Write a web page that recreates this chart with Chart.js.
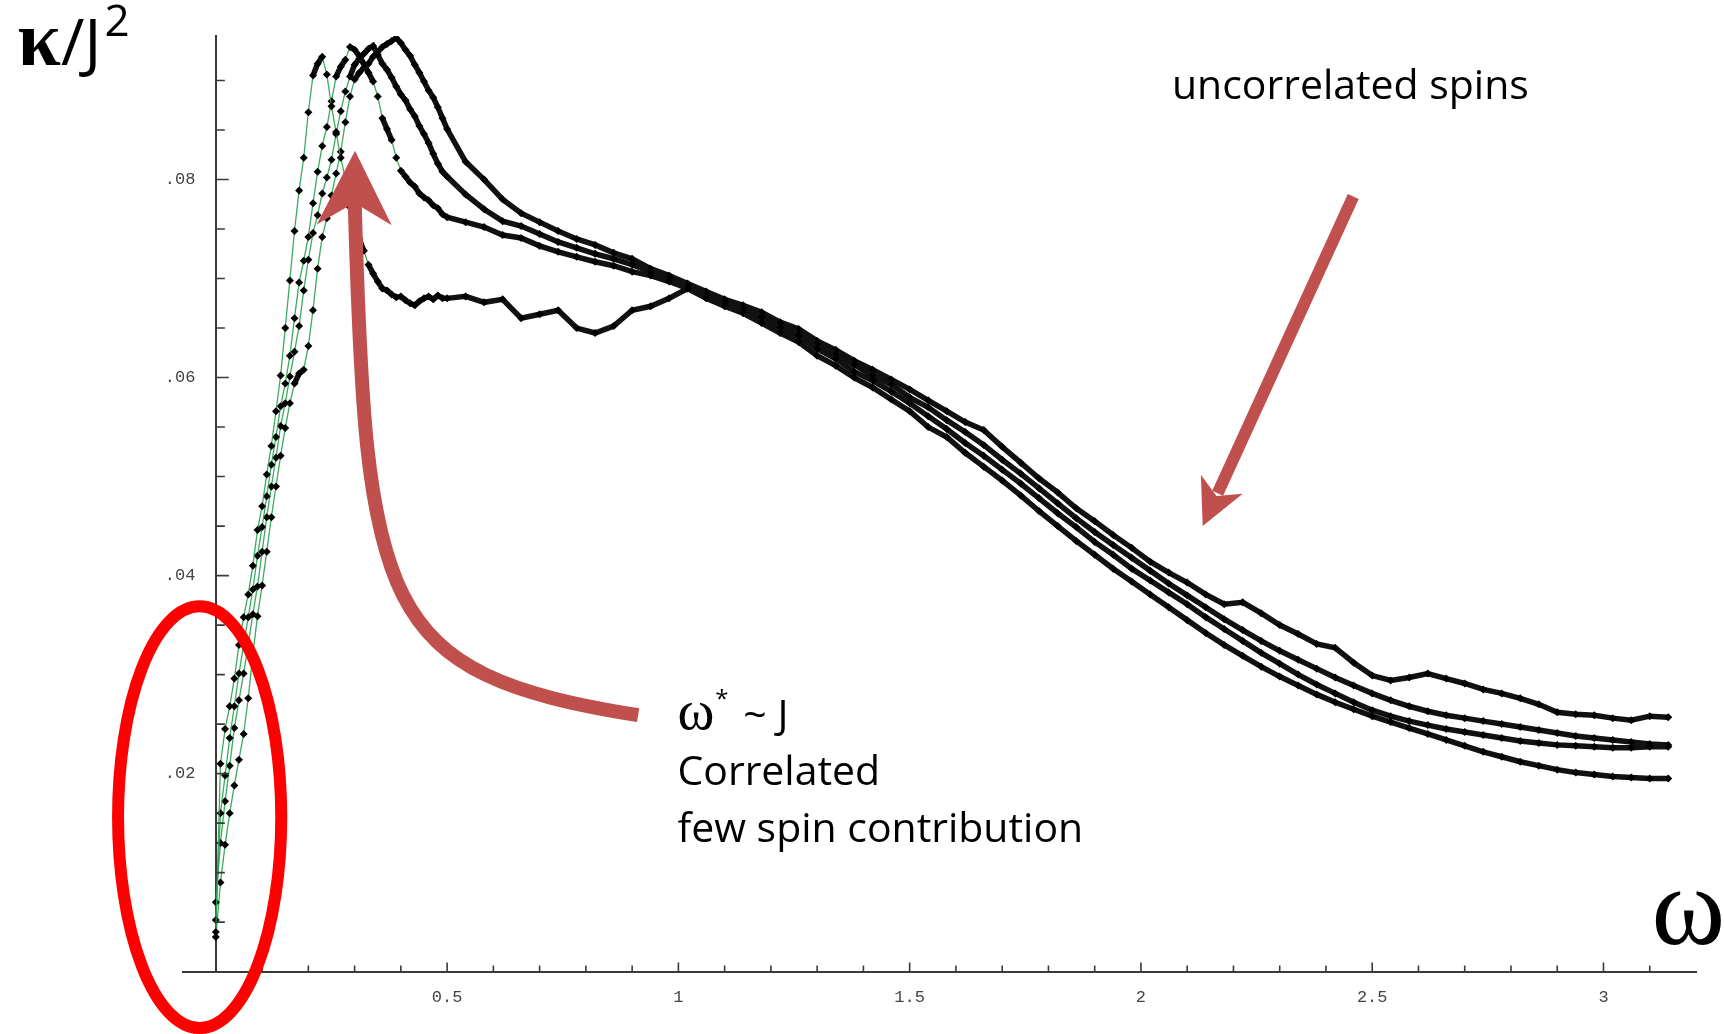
<!doctype html>
<html>
<head>
<meta charset="utf-8">
<title>kappa / J^2 versus omega</title>
<script src="https://cdn.jsdelivr.net/npm/chart.js@4.4.1/dist/chart.umd.min.js"></script>
<style>
    html, body { margin: 0; padding: 0; background: #fff; }
    #holder { width: 1724px; height: 1034px; position: relative; }
</style>
</head>
<body>
<div id="holder"><canvas id="chart"></canvas></div>
<script>
// omega samples: 0.01 steps over the rise and the peaks, 0.04 steps after that
var omega = [
    0.00, 0.01, 0.02, 0.03, 0.04, 0.05, 0.06, 0.07, 0.08, 0.09,
    0.10, 0.11, 0.12, 0.13, 0.14, 0.15, 0.16, 0.17, 0.18, 0.19,
    0.20, 0.21, 0.22, 0.23, 0.24, 0.25, 0.26, 0.27, 0.28, 0.29,
    0.30, 0.31, 0.32, 0.33, 0.34, 0.35, 0.36, 0.37, 0.38, 0.39,
    0.40, 0.41, 0.42, 0.43, 0.44, 0.45, 0.46, 0.47, 0.48, 0.49, 0.50,
    0.54, 0.58, 0.62, 0.66, 0.70, 0.74, 0.78, 0.82, 0.86, 0.90,
    0.94, 0.98, 1.02, 1.06, 1.10, 1.14, 1.18, 1.22, 1.26, 1.30,
    1.34, 1.38, 1.42, 1.46, 1.50, 1.54, 1.58, 1.62, 1.66, 1.70,
    1.74, 1.78, 1.82, 1.86, 1.90, 1.94, 1.98, 2.02, 2.06, 2.10,
    2.14, 2.18, 2.22, 2.26, 2.30, 2.34, 2.38, 2.42, 2.46, 2.50,
    2.54, 2.58, 2.62, 2.66, 2.70, 2.74, 2.78, 2.82, 2.86, 2.90,
    2.94, 2.98, 3.02, 3.06, 3.10, 3.14
];

// curve with the earliest peak, drops to the flat shelf
var kappaA = [
    0.0040, 0.0210, 0.0245, 0.0268, 0.0296, 0.0330, 0.0358, 0.0381, 0.0410, 0.0446,
    0.0470, 0.0502, 0.0531, 0.0566, 0.0602, 0.0650, 0.0698, 0.0748, 0.0789, 0.0822,
    0.0868, 0.0905, 0.0917, 0.0924, 0.0906, 0.0874, 0.0848, 0.0822, 0.0801, 0.0772,
    0.0754, 0.0740, 0.0728, 0.0714, 0.0705, 0.0697, 0.0690, 0.0688, 0.0684, 0.0681,
    0.0682, 0.0678, 0.0675, 0.0673, 0.0677, 0.0680, 0.0682, 0.0679, 0.0683, 0.0680, 0.0680,
    0.0682, 0.0676, 0.0679, 0.0660, 0.0664, 0.0668, 0.0650, 0.0645, 0.0652, 0.0668,
    0.0672, 0.0680, 0.0690, 0.0680, 0.0672, 0.0665, 0.0655, 0.0645, 0.0636, 0.0622,
    0.0612, 0.0600, 0.0590, 0.0578, 0.0566, 0.0550, 0.0540, 0.0524, 0.0510, 0.0496,
    0.0481, 0.0465, 0.0450, 0.0435, 0.0421, 0.0407, 0.0394, 0.0381, 0.0368, 0.0355,
    0.0342, 0.0330, 0.0319, 0.0308, 0.0298, 0.0289, 0.0280, 0.0272, 0.0265, 0.0258,
    0.0252, 0.0246, 0.0240, 0.0234, 0.0228, 0.0222, 0.0217, 0.0212, 0.0208, 0.0204,
    0.0201, 0.0199, 0.0197, 0.0196, 0.0195, 0.0195
];

var kappaB = [
    0.0052, 0.0160, 0.0198, 0.0236, 0.0268, 0.0301, 0.0330, 0.0358, 0.0386, 0.0420,
    0.0449, 0.0480, 0.0512, 0.0540, 0.0571, 0.0594, 0.0622, 0.0660, 0.0696, 0.0718,
    0.0742, 0.0776, 0.0808, 0.0834, 0.0853, 0.0879, 0.0904, 0.0914, 0.0921, 0.0934,
    0.0931, 0.0925, 0.0917, 0.0908, 0.0899, 0.0884, 0.0862, 0.0851, 0.0840, 0.0822,
    0.0809, 0.0803, 0.0797, 0.0793, 0.0786, 0.0782, 0.0779, 0.0774, 0.0771, 0.0765, 0.0762,
    0.0757, 0.0752, 0.0744, 0.0741, 0.0733, 0.0727, 0.0722, 0.0717, 0.0713, 0.0707,
    0.0703, 0.0697, 0.0690, 0.0683, 0.0675, 0.0668, 0.0661, 0.0650, 0.0642, 0.0629,
    0.0619, 0.0606, 0.0597, 0.0586, 0.0574, 0.0561, 0.0548, 0.0534, 0.0521, 0.0507,
    0.0493, 0.0478, 0.0463, 0.0449, 0.0434, 0.0421, 0.0407, 0.0395, 0.0383, 0.0371,
    0.0358, 0.0346, 0.0334, 0.0322, 0.0311, 0.0300, 0.0290, 0.0281, 0.0272, 0.0264,
    0.0258, 0.0253, 0.0249, 0.0245, 0.0242, 0.0239, 0.0236, 0.0233, 0.0231, 0.0229,
    0.0228, 0.0227, 0.0226, 0.0226, 0.0227, 0.0227
];

var kappaC = [
    0.0070, 0.0130, 0.0172, 0.0208, 0.0246, 0.0274, 0.0301, 0.0330, 0.0361, 0.0389,
    0.0424, 0.0459, 0.0490, 0.0519, 0.0551, 0.0574, 0.0601, 0.0626, 0.0652, 0.0688,
    0.0719, 0.0746, 0.0764, 0.0786, 0.0802, 0.0820, 0.0846, 0.0869, 0.0889, 0.0904,
    0.0916, 0.0922, 0.0927, 0.0932, 0.0935, 0.0926, 0.0917, 0.0911, 0.0903, 0.0894,
    0.0886, 0.0880, 0.0871, 0.0864, 0.0854, 0.0846, 0.0837, 0.0826, 0.0816, 0.0808, 0.0803,
    0.0785, 0.0770, 0.0758, 0.0753, 0.0745, 0.0737, 0.0731, 0.0725, 0.0720, 0.0714,
    0.0707, 0.0700, 0.0693, 0.0685, 0.0677, 0.0671, 0.0662, 0.0655, 0.0645, 0.0634,
    0.0623, 0.0613, 0.0602, 0.0593, 0.0580, 0.0570, 0.0557, 0.0545, 0.0532, 0.0517,
    0.0503, 0.0488, 0.0473, 0.0458, 0.0444, 0.0431, 0.0418, 0.0405, 0.0392, 0.0380,
    0.0368, 0.0356, 0.0345, 0.0334, 0.0324, 0.0315, 0.0306, 0.0297, 0.0289, 0.0281,
    0.0274, 0.0268, 0.0263, 0.0259, 0.0256, 0.0253, 0.0250, 0.0247, 0.0244, 0.0241,
    0.0238, 0.0236, 0.0234, 0.0232, 0.0230, 0.0229
];

// curve with the latest peak, ends highest
var kappaD = [
    0.0035, 0.0090, 0.0128, 0.0160, 0.0188, 0.0214, 0.0240, 0.0276, 0.0320, 0.0359,
    0.0390, 0.0424, 0.0459, 0.0490, 0.0521, 0.0549, 0.0574, 0.0594, 0.0604, 0.0608,
    0.0632, 0.0668, 0.0710, 0.0742, 0.0761, 0.0784, 0.0806, 0.0828, 0.0858, 0.0884,
    0.0901, 0.0908, 0.0913, 0.0917, 0.0924, 0.0929, 0.0934, 0.0937, 0.0940, 0.0943,
    0.0938, 0.0931, 0.0925, 0.0916, 0.0908, 0.0899, 0.0890, 0.0883, 0.0873, 0.0862, 0.0851,
    0.0818, 0.0800, 0.0780, 0.0766, 0.0757, 0.0748, 0.0740, 0.0734, 0.0726, 0.0720,
    0.0710, 0.0703, 0.0695, 0.0687, 0.0679, 0.0673, 0.0666, 0.0656, 0.0649, 0.0637,
    0.0628, 0.0617, 0.0608, 0.0598, 0.0588, 0.0577, 0.0566, 0.0555, 0.0547, 0.0530,
    0.0514, 0.0498, 0.0484, 0.0468, 0.0455, 0.0441, 0.0428, 0.0414, 0.0403, 0.0393,
    0.0381, 0.0371, 0.0373, 0.0362, 0.0350, 0.0341, 0.0331, 0.0327, 0.0312, 0.0299,
    0.0294, 0.0297, 0.0301, 0.0296, 0.0291, 0.0285, 0.0281, 0.0276, 0.0270, 0.0262,
    0.0260, 0.0259, 0.0256, 0.0254, 0.0258, 0.0257
];

var xTickValues = [0.5, 1, 1.5, 2, 2.5, 3];
var xTickLabels = ["0.5", "1", "1.5", "2", "2.5", "3"];
var yTickValues = [0.02, 0.04, 0.06, 0.08];
var yTickLabels = [".02", ".04", ".06", ".08"];

var xAxisTitle = "ω";
var noteTop = "uncorrelated spins";
var noteLines = ["~ J", "Correlated", "few spin contribution"];

function series(vals) {
    return omega.map(function (w, i) { return { x: w, y: vals[i] }; });
}

// steep segments stay thin and green, the flat ones merge into a black band
function steep(c) {
    var dx = Math.abs(c.p1.x - c.p0.x), dy = Math.abs(c.p1.y - c.p0.y);
    return dy > 2.5 * dx && dy > 12;
}

function curve(vals) {
    return {
        data: series(vals),
        showLine: true,
        borderColor: 'rgba(40,160,80,0.9)',
        borderWidth: 1.3,
        pointStyle: 'rectRot',
        pointRadius: 4,
        pointBackgroundColor: '#000',
        pointBorderWidth: 0,
        segment: {
            borderColor: function (c) { return steep(c) ? 'rgba(40,160,80,0.9)' : '#111'; },
            borderWidth: function (c) { return steep(c) ? 1.3 : 5.5; }
        }
    };
}

function arrowHead(ctx, tx, ty, ux, uy, len, half, notch) {
    var nx = -uy, ny = ux;
    ctx.beginPath();
    ctx.moveTo(tx, ty);
    ctx.lineTo(tx - len * ux + half * nx, ty - len * uy + half * ny);
    ctx.lineTo(tx - notch * ux, ty - notch * uy);
    ctx.lineTo(tx - len * ux - half * nx, ty - len * uy - half * ny);
    ctx.closePath();
    ctx.fill();
}

function fitFont(ctx, text, family, width) {
    ctx.font = '100px ' + family;
    return 100 * width / ctx.measureText(text).width;
}

var axisMarks = {
    id: 'axisMarks',
    afterDraw: function (chart) {
        var ctx = chart.ctx, xs = chart.scales.x, ys = chart.scales.y;
        var x0 = xs.getPixelForValue(0), y0 = ys.getPixelForValue(0);
        ctx.save();
        ctx.strokeStyle = '#3a3a3a';
        ctx.lineWidth = 1.6;
        ctx.beginPath();
        for (var i = 1; i <= 31; i++) {
            var px = xs.getPixelForValue(i / 10);
            ctx.moveTo(px, y0);
            ctx.lineTo(px, y0 - (i % 5 === 0 ? 9 : 6));
        }
        for (var j = 1; j <= 18; j++) {
            var py = ys.getPixelForValue(j * 0.005);
            ctx.moveTo(x0, py);
            ctx.lineTo(x0 + (j % 4 === 0 ? 13 : 9), py);
        }
        ctx.stroke();
        ctx.restore();
    }
};

var notes = {
    id: 'notes',
    afterDraw: function (chart) {
        var ctx = chart.ctx, xs = chart.scales.x, ys = chart.scales.y;
        function X(v) { return xs.getPixelForValue(v); }
        function Y(v) { return ys.getPixelForValue(v); }
        ctx.save();

        // red ellipse round the low-omega start
        ctx.strokeStyle = '#ff0000';
        ctx.lineWidth = 12;
        ctx.beginPath();
        ctx.ellipse(X(-0.035), Y(0.0156), X(0.1764) - X(0), Y(0) - Y(0.0213), 0, 0, 2 * Math.PI);
        ctx.stroke();

        // curved arrow up to the peaks
        var red = '#c0504d';
        ctx.strokeStyle = red;
        ctx.fillStyle = red;
        ctx.lineWidth = 14;
        ctx.lineCap = 'butt';
        ctx.beginPath();
        ctx.moveTo(X(0.913), Y(0.0259));
        ctx.bezierCurveTo(X(0.3506), Y(0.0301), X(0.3247), Y(0.0365), X(0.2998), Y(0.0784));
        ctx.stroke();
        var tx = X(0.3009), ty = Y(0.0829);
        var dx = tx - X(0.2998), dy = ty - Y(0.0784), d = Math.sqrt(dx * dx + dy * dy);
        arrowHead(ctx, tx, ty, dx / d, dy / d, 74, 37.5, 52);

        // straight arrow down to the tails
        var sx = X(2.459), sy = Y(0.0783), ex = X(2.1335), ey = Y(0.0450);
        dx = ex - sx; dy = ey - sy; d = Math.sqrt(dx * dx + dy * dy);
        ctx.lineWidth = 12;
        ctx.beginPath();
        ctx.moveTo(sx, sy);
        ctx.lineTo(ex - 36 * dx / d, ey - 36 * dy / d);
        ctx.stroke();
        arrowHead(ctx, ex, ey, dx / d, dy / d, 46, 23, 33);

        ctx.fillStyle = '#000';
        ctx.textBaseline = 'alphabetic';
        var sans = '"Open Sans", "Noto Sans", sans-serif';
        var serif = '"Liberation Serif", "DejaVu Serif", serif';

        // axis titles
        var bx = X(-0.4286), by = Y(0.0916);
        ctx.font = 'bold 78px ' + serif;
        ctx.fillText('κ', bx, by);
        bx += ctx.measureText('κ').width;
        ctx.font = '64px ' + sans;
        ctx.fillText('/J', bx, by);
        bx += ctx.measureText('/J').width + 3;
        ctx.font = '44px ' + sans;
        ctx.fillText('2', bx, by - 29);

        ctx.font = '112px ' + serif;
        ctx.fillText(xAxisTitle, X(3.104), Y(0.00283));

        // annotation text
        var fs = fitFont(ctx, noteTop, sans, 357);
        ctx.font = fs + 'px ' + sans;
        ctx.fillText(noteTop, X(2.067), Y(0.0881));

        var lx = X(0.998);
        ctx.font = '56px ' + serif;
        ctx.fillText('ω', lx, Y(0.02455));
        var ww = ctx.measureText('ω').width;
        ctx.font = '24px ' + sans;
        ctx.fillText('*', lx + ww + 1, Y(0.02455) - 22);
        ctx.font = fs + 'px ' + sans;
        ctx.fillText(noteLines[0], lx + ww + 29, Y(0.02455));
        ctx.fillText(noteLines[1], lx, Y(0.01889));
        ctx.fillText(noteLines[2], lx, Y(0.01313));

        ctx.restore();
    }
};

var ctx = document.getElementById('chart').getContext('2d');
window.myChart = new Chart(ctx, {
    type: 'scatter',
    data: {
        datasets: [curve(kappaA), curve(kappaB), curve(kappaC), curve(kappaD)]
    },
    options: {
        responsive: true,
        maintainAspectRatio: false,
        devicePixelRatio: 1,
        animation: false,
        events: [],
        layout: { padding: { left: 183, right: 28, top: 36, bottom: 10 } },
        plugins: {
            legend: { display: false },
            tooltip: { enabled: false }
        },
        scales: {
            x: {
                type: 'linear',
                min: -0.071,
                max: 3.2,
                position: 'bottom',
                grid: { display: false, drawTicks: false },
                border: { display: true, color: '#3a3a3a', width: 2 },
                afterBuildTicks: function (s) {
                    s.ticks = xTickValues.map(function (v) { return { value: v }; });
                },
                ticks: {
                    callback: function (v, i) { return xTickLabels[i]; },
                    font: { family: '"Liberation Mono", "DejaVu Sans Mono", monospace', size: 17 },
                    color: '#444',
                    padding: 16,
                    maxRotation: 0,
                    autoSkip: false
                }
            },
            y: {
                type: 'linear',
                min: 0,
                max: 0.0945,
                position: { x: 0 },
                grid: { display: false, drawTicks: false },
                border: { display: true, color: '#3a3a3a', width: 2 },
                afterBuildTicks: function (s) {
                    s.ticks = yTickValues.map(function (v) { return { value: v }; });
                },
                ticks: {
                    // trailing spaces keep the labels clear of the axis line
                    callback: function (v, i) { return yTickLabels[i] + '  '; },
                    font: { family: '"Liberation Mono", "DejaVu Sans Mono", monospace', size: 17 },
                    color: '#444',
                    autoSkip: false
                }
            }
        }
    },
    plugins: [axisMarks, notes]
});
</script>
</body>
</html>
